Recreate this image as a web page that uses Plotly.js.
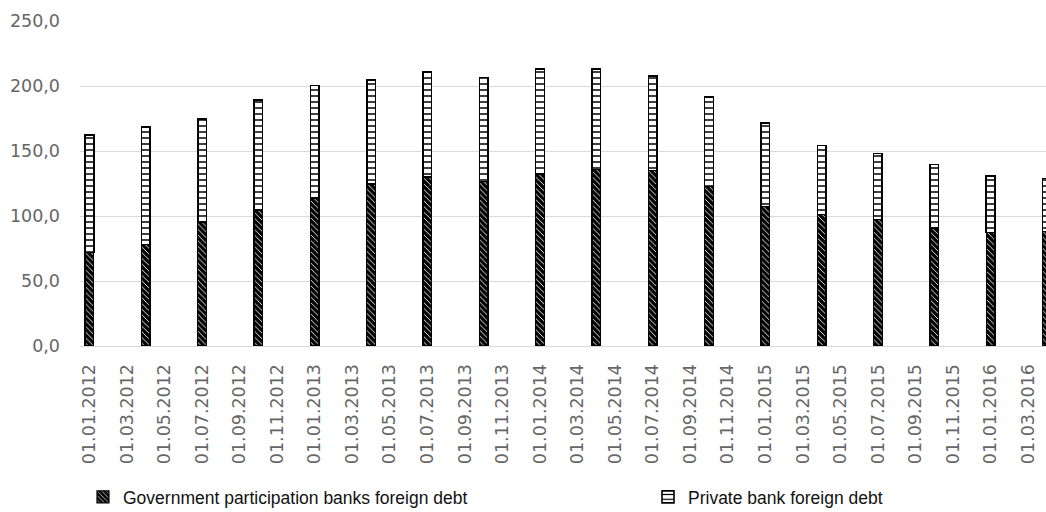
<!DOCTYPE html>
<html>
<head>
<meta charset="utf-8">
<script src="https://cdn.plot.ly/plotly-3.0.1.min.js"></script>
<style>html,body{margin:0;padding:0;background:#fff;}#chart{width:1046px;height:512px;}</style>
</head>
<body>
<div id="chart"></div>
<script>
// Quarterly observation dates (dd.mm.yyyy)
const dates = ['01.01.2012','01.04.2012','01.07.2012','01.10.2012',
               '01.01.2013','01.04.2013','01.07.2013','01.10.2013',
               '01.01.2014','01.04.2014','01.07.2014','01.10.2014',
               '01.01.2015','01.04.2015','01.07.2015','01.10.2015',
               '01.01.2016','01.04.2016'];
// Government participation banks foreign debt
const govDebt = [72.0, 78.0, 95.6, 104.6, 114.0, 124.4, 130.0, 126.4, 132.3,
                 135.9, 134.9, 122.6, 107.2, 101.3, 97.4, 91.0, 87.4, 88.0];
// Private bank foreign debt
const privateDebt = [90.3, 90.5, 79.0, 84.6, 86.5, 80.2, 81.0, 80.0, 81.0,
                     77.4, 72.8, 68.9, 64.3, 52.8, 50.8, 48.5, 43.4, 41.0];
// Axis tick labels (every two months)
const tickLabels = ['01.01.2012','01.03.2012','01.05.2012','01.07.2012','01.09.2012','01.11.2012',
                    '01.01.2013','01.03.2013','01.05.2013','01.07.2013','01.09.2013','01.11.2013',
                    '01.01.2014','01.03.2014','01.05.2014','01.07.2014','01.09.2014','01.11.2014',
                    '01.01.2015','01.03.2015','01.05.2015','01.07.2015','01.09.2015','01.11.2015',
                    '01.01.2016','01.03.2016'];
const seriesNames = ['Government participation banks foreign debt', 'Private bank foreign debt'];

function monthIndex(s) {
  const p = s.split('.');
  return (parseInt(p[2], 10) - 2012) * 12 + (parseInt(p[1], 10) - 1);
}
const xs = dates.map(monthIndex);
const tickVals = tickLabels.map(monthIndex);
const boundaryVals = tickVals.map(v => v - 0.5).concat([tickVals[tickVals.length - 1] + 1.5]);

const tickFont = {family: 'DejaVu Sans', size: 17.5, color: '#666666'};
const legendFont = {family: 'Liberation Sans, Arial', size: 17.5, color: '#111111'};

const traces = [
  {
    type: 'bar', name: seriesNames[0], x: xs, y: govDebt, width: 0.46,
    legend: 'legend',
    marker: {color: '#000', line: {color: '#000', width: 1.2},
             pattern: {shape: '\\', bgcolor: '#000', fgcolor: '#fff', size: 4, solidity: 0.22}},
    hoverinfo: 'y'
  },
  {
    type: 'bar', name: seriesNames[1], x: xs, y: privateDebt, width: 0.46,
    legend: 'legend2',
    marker: {color: '#fff', line: {color: '#000', width: 1.6},
             pattern: {shape: '-', bgcolor: '#fff', fgcolor: '#000', size: 6, solidity: 0.25}},
    hoverinfo: 'y'
  }
];

const xRange = [-0.5, 50.95];
const layout = {
  width: 1046, height: 512,
  margin: {l: 80, r: 0, t: 21, b: 166, pad: 0},
  paper_bgcolor: '#fff', plot_bgcolor: '#fff',
  barmode: 'stack',
  separators: ',.',
  showlegend: true,
  xaxis: {
    range: xRange, tickmode: 'array', tickvals: tickVals, ticktext: tickLabels,
    tickangle: -90, tickfont: tickFont, ticks: '', showgrid: false, zeroline: false,
    showline: true, linecolor: '#d9d9d9', linewidth: 1, ticklabelstandoff: 10,
    fixedrange: true
  },
  xaxis2: {
    overlaying: 'x', anchor: 'y', side: 'bottom', range: xRange,
    tickmode: 'array', tickvals: boundaryVals, ticks: 'outside', ticklen: 6,
    tickcolor: '#d9d9d9', tickwidth: 1, showticklabels: false, showgrid: false,
    zeroline: false, showline: false, fixedrange: true
  },
  yaxis: {
    range: [0, 250], dtick: 50, tick0: 0, tickformat: '.1f', tickfont: tickFont,
    showgrid: true, gridcolor: '#d9d9d9', gridwidth: 1, zeroline: false,
    showline: false, ticks: '', ticklabelstandoff: 19, fixedrange: true
  },
  legend: {
    orientation: 'h', xref: 'container', yref: 'container', x: 83/1046, y: 15/512,
    xanchor: 'left', yanchor: 'middle', font: legendFont, bgcolor: 'rgba(0,0,0,0)'
  },
  legend2: {
    orientation: 'h', xref: 'container', yref: 'container', x: 648/1046, y: 15/512,
    xanchor: 'left', yanchor: 'middle', font: legendFont, bgcolor: 'rgba(0,0,0,0)'
  }
};

Plotly.newPlot('chart', traces, layout, {displayModeBar: false, staticPlot: true});
</script>
</body>
</html>
